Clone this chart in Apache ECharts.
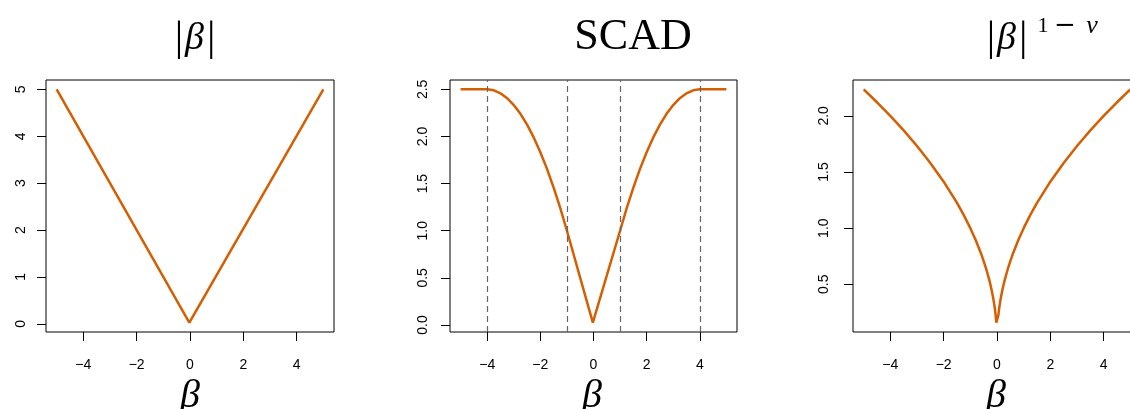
<!DOCTYPE html>
<html>
<head>
<meta charset="utf-8">
<script src="https://cdn.jsdelivr.net/npm/echarts@6/dist/echarts.min.js"></script>
<style>
  html, body { margin: 0; padding: 0; background: #fff; overflow: hidden; }
  /* the drawing surface is a little wider than the window: the third panel runs off the right edge */
  #chart { width: 1142px; height: 409px; }
</style>
</head>
<body>
<div id="chart"></div>
<script>
// Penalty functions of beta on [-5, 5]

// Panel 1: |beta|
const absBeta = [-5, -0.025, 0.025, 5];
const absValue = [5, 0.025, 0.025, 5];

// Panel 2: SCAD penalty (lambda = 1, a = 4)
const scadBeta = [-5, -4, -3.75, -3.5, -3.25, -3, -2.75, -2.5, -2.25, -2, -1.75, -1.5, -1.25, -1,
                  -0.025, 0.025,
                  1, 1.25, 1.5, 1.75, 2, 2.25, 2.5, 2.75, 3, 3.25, 3.5, 3.75, 4, 5];
const scadValue = [2.5, 2.5, 2.49, 2.458, 2.406, 2.333, 2.24, 2.125, 1.99, 1.833, 1.656, 1.458, 1.24, 1.0,
                   0.025, 0.025,
                   1.0, 1.24, 1.458, 1.656, 1.833, 1.99, 2.125, 2.24, 2.333, 2.406, 2.458, 2.49, 2.5, 2.5];
const scadBreaks = [-4, -1, 1, 4];

// Panel 3: |beta|^(1 - nu), nu = 0.5
const powBeta = [-5, -4.5, -4, -3.5, -3, -2.5, -2, -1.5, -1.25, -1, -0.8, -0.6, -0.5, -0.4, -0.3, -0.25, -0.2, -0.15, -0.125, -0.1, -0.075, -0.05, -0.025,
                 0.025, 0.05, 0.075, 0.1, 0.125, 0.15, 0.2, 0.25, 0.3, 0.4, 0.5, 0.6, 0.8, 1, 1.25, 1.5, 2, 2.5, 3, 3.5, 4, 4.5, 5];
const powValue = [2.236, 2.121, 2.0, 1.871, 1.732, 1.581, 1.414, 1.225, 1.118, 1.0, 0.894, 0.775, 0.707, 0.632, 0.548, 0.5, 0.447, 0.387, 0.354, 0.316, 0.274, 0.224, 0.158,
                  0.158, 0.224, 0.274, 0.316, 0.354, 0.387, 0.447, 0.5, 0.548, 0.632, 0.707, 0.775, 0.894, 1.0, 1.118, 1.225, 1.414, 1.581, 1.732, 1.871, 2.0, 2.121, 2.236];

// Tick labels
const xTicks = [-4, -2, 0, 2, 4];
const yTicks1 = [0, 1, 2, 3, 4, 5];
const yTicks2 = [0, 0.5, 1, 1.5, 2, 2.5];
const yTicks3 = [0.5, 1, 1.5, 2];

const LINE = '#D55E00';
const SANS = '"Liberation Sans", Arial, sans-serif';
const SERIF = '"Liberation Serif", "Times New Roman", serif';
const minus = s => String(s).replace('-', '\u2212');

function pairs(xs, ys) { return xs.map((x, i) => [x, ys[i]]); }

function xAxisFor(gridIndex) {
  return {
    type: 'value', gridIndex, min: -5.4, max: 5.4,
    axisLine: { show: false, onZero: false },
    splitLine: { show: false },
    axisTick: { show: true, customValues: xTicks, length: 9, lineStyle: { color: '#000', width: 1 } },
    axisLabel: {
      customValues: xTicks, margin: 26, color: '#000', fontFamily: SANS, fontSize: 14,
      formatter: v => minus(v)
    }
  };
}

function yAxisFor(gridIndex, min, max, ticks, digits, margin) {
  return {
    type: 'value', gridIndex, min, max,
    axisLine: { show: false, onZero: false },
    splitLine: { show: false },
    axisTick: { show: true, customValues: ticks, length: 9, lineStyle: { color: '#000', width: 1 } },
    axisLabel: {
      customValues: ticks, rotate: 90, margin, color: '#000', fontFamily: SANS, fontSize: 14,
      formatter: v => Number(v).toFixed(digits)
    }
  };
}

function curve(idx, data, extra) {
  return Object.assign({
    type: 'line', xAxisIndex: idx, yAxisIndex: idx, data,
    showSymbol: false, symbol: 'none', smooth: false, silent: true,
    lineStyle: { color: LINE, width: 2.5 }, z: 3
  }, extra || {});
}

const gridBox = { show: true, borderColor: '#000', borderWidth: 1, backgroundColor: 'transparent', containLabel: false };

const titleText = (x, y, text, rich) => ({
  type: 'text', x, y, silent: true,
  style: { text, rich, align: 'center', verticalAlign: 'middle', fill: '#000' }
});

const richAbs = {
  u: { fontFamily: SERIF, fontSize: 42, color: '#000' },
  i: { fontFamily: SERIF, fontSize: 38, fontStyle: 'italic', color: '#000', padding: [0, 3, 0, 2] }
};

const option = {
  animation: false,
  backgroundColor: '#fff',
  grid: [
    Object.assign({ left: 46, top: 80, width: 288, height: 252 }, gridBox),
    Object.assign({ left: 450, top: 80, width: 287, height: 252 }, gridBox),
    Object.assign({ left: 853, top: 80, width: 288, height: 252 }, gridBox)
  ],
  xAxis: [xAxisFor(0), xAxisFor(1), xAxisFor(2)],
  yAxis: [
    yAxisFor(0, -0.174, 5.199, yTicks1, 0, 18),
    yAxisFor(1, -0.074, 2.599, yTicks2, 1, 20),
    yAxisFor(2, 0.0754, 2.3192, yTicks3, 1, 22)
  ],
  series: [
    curve(0, pairs(absBeta, absValue)),
    curve(1, pairs(scadBeta, scadValue), {
      markLine: {
        silent: true, symbol: 'none', label: { show: false },
        lineStyle: { color: '#666', type: [6, 4], width: 1.2 },
        data: scadBreaks.map(v => ({ xAxis: v }))
      }
    }),
    curve(2, pairs(powBeta, powValue))
  ],
  graphic: [
    // titles
    titleText(195, 39, '{u||}{i|β}{u||}', richAbs),
    titleText(633, 37, '{s|SCAD}', { s: { fontFamily: SERIF, fontSize: 44, color: '#000' } }),
    titleText(1007, 39, '{u||}{i|β}{u||}', richAbs),
    titleText(1043, 26, '{a|1}', { a: { fontFamily: SERIF, fontSize: 22, color: '#000' } }),
    titleText(1065, 26, '{a|\u2212}', { a: { fontFamily: '"DejaVu Serif", serif', fontSize: 26, color: '#000' } }),
    titleText(1092, 26, '{a|ν}', { a: { fontFamily: SERIF, fontSize: 26, fontStyle: 'italic', color: '#000' } }),
    // x-axis names
    titleText(190, 396, '{i|β}', { i: { fontFamily: SERIF, fontSize: 40, fontStyle: 'italic', color: '#000' } }),
    titleText(592, 396, '{i|β}', { i: { fontFamily: SERIF, fontSize: 40, fontStyle: 'italic', color: '#000' } }),
    titleText(996, 396, '{i|β}', { i: { fontFamily: SERIF, fontSize: 40, fontStyle: 'italic', color: '#000' } })
  ]
};

const chart = echarts.init(document.getElementById('chart'), null, { renderer: 'canvas' });
chart.setOption(option);
</script>
</body>
</html>
